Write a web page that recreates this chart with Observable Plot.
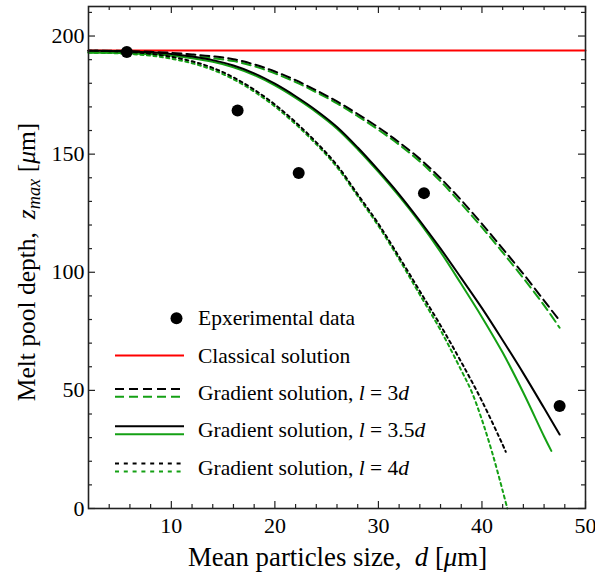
<!DOCTYPE html>
<html><head><meta charset="utf-8">
<script src="https://cdn.jsdelivr.net/npm/d3@7"></script>
<script src="https://cdn.jsdelivr.net/npm/@observablehq/plot@0.6"></script>
<style>body{margin:0;background:#fff} svg{display:block}</style>
</head><body><div id="chart"></div>
<script>
// ---- data ----
const expX = [5.7, 16.4, 22.3, 34.4, 47.5];
const expY = [193.2, 168.5, 142.0, 133.5, 43.4];

const classicalX = [2, 50];
const classicalY = [193.9, 193.9];

// l = 3d (dashed)
const l3X     = [2, 4, 6, 8, 10, 12, 14, 16, 18, 20, 22, 24, 26, 28, 30, 32, 34, 36, 38, 40, 42, 44, 46, 47.5];
const l3Black = [193.8, 193.8, 193.6, 193.3, 192.9, 192.2, 191.4, 190.2, 188.0, 185.0, 181.3, 177.0, 172.3, 167.0, 161.3, 155.0, 148.0, 139.8, 130.5, 120.5, 110.0, 99.3, 88.0, 79.5];
const l3Green = [193.0, 193.0, 192.8, 192.5, 192.1, 191.4, 190.6, 189.4, 187.2, 184.2, 180.5, 176.2, 171.5, 166.1, 160.3, 154.0, 146.9, 138.5, 129.0, 119.0, 108.4, 97.5, 86.0, 76.5];

// l = 3.5d (solid)
const l35XBlack = [2, 4, 6, 8, 10, 12, 14, 16, 18, 20, 22, 24, 26, 28, 30, 32, 34, 36, 38, 40, 42, 44, 46, 47.5];
const l35Black  = [193.8, 193.7, 193.5, 193.1, 192.4, 191.3, 189.8, 187.5, 184.2, 179.8, 174.5, 168.5, 161.5, 152.8, 143.2, 133.0, 121.8, 110.0, 97.5, 84.8, 71.2, 57.2, 42.5, 31.3];
const l35XGreen = [2, 4, 6, 8, 10, 12, 14, 16, 18, 20, 22, 24, 26, 28, 30, 32, 34, 36, 38, 40, 42, 44, 46, 46.7];
const l35Green  = [193.0, 192.9, 192.7, 192.3, 191.7, 190.6, 189.1, 186.8, 183.5, 179.1, 173.8, 167.8, 160.8, 152.1, 142.5, 132.2, 121.0, 108.6, 95.0, 81.0, 66.0, 49.0, 30.5, 24.4];

// l = 4d (dotted)
const l4XBlack = [2, 4, 6, 8, 10, 12, 14, 16, 18, 20, 22, 24, 26, 28, 30, 32, 34, 36, 38, 40, 42, 42.3];
const l4Black  = [193.8, 193.6, 193.2, 192.5, 191.2, 189.3, 186.5, 182.5, 177.3, 171.0, 163.5, 155.0, 145.3, 133.0, 120.5, 106.5, 92.0, 77.5, 62.0, 45.5, 27.0, 24.0];
const l4XGreen = [2, 4, 6, 8, 10, 12, 14, 16, 18, 20, 22, 24, 26, 28, 30, 32, 34, 36, 38, 39, 40, 41, 42, 42.45];
const l4Green  = [193.0, 192.8, 192.4, 191.7, 190.4, 188.5, 185.7, 181.7, 176.5, 170.2, 162.7, 154.2, 144.5, 132.2, 119.6, 105.5, 90.5, 75.5, 58.5, 49.5, 37.5, 23.5, 7.5, 0.0];

const xMajor = [10, 20, 30, 40, 50];
const xMinor = [4, 6, 8, 12, 14, 16, 18, 22, 24, 26, 28, 32, 34, 36, 38, 42, 44, 46, 48];
const yMajor = [0, 50, 100, 150, 200];
const yMinor = [10, 20, 30, 40, 60, 70, 80, 90, 110, 120, 130, 140, 160, 170, 180, 190, 210];

const legendLabels = [
  ["Epxerimental data"],
  ["Classical solution"],
  ["Gradient solution, ", "l", " = 3", "d"],
  ["Gradient solution, ", "l", " = 3.5", "d"],
  ["Gradient solution, ", "l", " = 4", "d"]
];
const xTitle = ["Mean particles size,  ", "d", " [", "μ", "m]"];
const yTitle = ["Melt pool depth,  ", "z", "max", " [", "μ", "m]"];

// ---- style ----
const GREEN = "#14a014";
const RED = "#ff0000";
const W = 595, H = 573;
const mL = 88, mR = 10, mT = 6, mB = 65;
const plotH = H - mT - mB;
const plotW = W - mL - mR;
const FONT = "Liberation Serif, Times New Roman, serif";

const pts = (xs, ys) => xs.map((x, i) => ({x, y: ys[i]}));
const lineOpts = (stroke, dash) => ({x: "x", y: "y", stroke, strokeWidth: 2, strokeDasharray: dash, curve: "catmull-rom"});
const DASH = "9,5", DOT = "3,3.5";
const TICK = {stroke: "#222", strokeWidth: 1.2};

const chart = Plot.plot({
  width: W, height: H,
  marginLeft: mL, marginRight: mR, marginTop: mT, marginBottom: mB,
  style: {fontFamily: FONT, fontSize: "22px", color: "#000", background: "#fff"},
  x: {domain: [2, 50]},
  y: {domain: [0, 212.5]},
  marks: [
    Plot.line(pts(classicalX, classicalY), lineOpts(RED, null)),
    Plot.line(pts(l3X, l3Green), lineOpts(GREEN, DASH)),
    Plot.line(pts(l3X, l3Black), lineOpts("#000", DASH)),
    Plot.line(pts(l35XGreen, l35Green), lineOpts(GREEN, null)),
    Plot.line(pts(l35XBlack, l35Black), lineOpts("#000", null)),
    Plot.line(pts(l4XGreen, l4Green), lineOpts(GREEN, DOT)),
    Plot.line(pts(l4XBlack, l4Black), lineOpts("#000", DOT)),
    Plot.dot(pts(expX, expY), {x: "x", y: "y", r: 6, fill: "#000"}),
    // inward ticks on all four sides
    Plot.ruleX(xMajor, {x: d => d, insetTop: plotH - 7, ...TICK}),
    Plot.ruleX(xMajor, {x: d => d, insetBottom: plotH - 7, ...TICK}),
    Plot.ruleX(xMinor, {x: d => d, insetTop: plotH - 4, ...TICK}),
    Plot.ruleX(xMinor, {x: d => d, insetBottom: plotH - 4, ...TICK}),
    Plot.ruleY(yMajor, {y: d => d, insetRight: plotW - 7, ...TICK}),
    Plot.ruleY(yMajor, {y: d => d, insetLeft: plotW - 7, ...TICK}),
    Plot.ruleY(yMinor, {y: d => d, insetRight: plotW - 4, ...TICK}),
    Plot.ruleY(yMinor, {y: d => d, insetLeft: plotW - 4, ...TICK}),
    Plot.axisX({ticks: xMajor, tickSize: 0, tickPadding: 9, label: null, fontSize: 22}),
    Plot.axisY({ticks: yMajor, tickSize: 0, tickPadding: 4, label: null, fontSize: 22}),
    Plot.frame({stroke: "#222", strokeWidth: 1.6})
  ]
});
document.getElementById("chart").appendChild(chart);

// ---- titles & legend ----
const svg = d3.select(chart);
function rich(textSel, parts, italicIdx, subIdx) {
  parts.forEach((p, i) => {
    const t = textSel.append("tspan").text(p);
    if (italicIdx.includes(i)) t.attr("font-style", "italic");
    if (subIdx.includes(i)) t.attr("font-size", "0.72em").attr("dy", "0.28em");
    else if (subIdx.includes(i - 1)) t.attr("dy", "-0.2em");
  });
}
const xt = svg.append("text").attr("x", 337.5).attr("y", 566)
  .attr("text-anchor", "middle").attr("font-family", FONT).attr("font-size", 26.8).attr("fill", "#000")
  .attr("xml:space", "preserve");
rich(xt, xTitle, [1, 3], []);
const yt = svg.append("text").attr("transform", `translate(35,262) rotate(-90)`)
  .attr("text-anchor", "middle").attr("font-family", FONT).attr("font-size", 25.5).attr("fill", "#000")
  .attr("xml:space", "preserve");
rich(yt, yTitle, [1, 2, 4], [2]);

const lg = svg.append("g").attr("font-family", FONT).attr("font-size", 21.5).attr("fill", "#000")
  .attr("text-anchor", "start");
const rowY = i => 318.3 + i * 37.3;
const sx1 = 115, sx2 = 184;
const legendSymbols = [
  {type: "dot"},
  {type: "line", strokes: [[RED, null, 0]]},
  {type: "line", strokes: [["#000", DASH, -3.8], [GREEN, DASH, 3.8]]},
  {type: "line", strokes: [["#000", null, -4], [GREEN, null, 4]]},
  {type: "line", strokes: [["#000", "4,4.8", -4], [GREEN, "4,4.8", 4]]}
];
legendSymbols.forEach((s, i) => {
  const cy = rowY(i);
  if (s.type === "dot") {
    lg.append("circle").attr("cx", 176.5).attr("cy", cy).attr("r", 6).attr("fill", "#000");
  } else {
    s.strokes.forEach(([c, d, off]) => {
      lg.append("line").attr("x1", sx1).attr("x2", sx2).attr("y1", cy + off).attr("y2", cy + off)
        .attr("stroke", c).attr("stroke-width", 2).attr("stroke-dasharray", d);
    });
  }
  const t = lg.append("text").attr("x", 198).attr("y", cy + 7);
  rich(t, legendLabels[i], legendLabels[i].length > 1 ? [1, 3] : [], []);
});
</script>
</body></html>
